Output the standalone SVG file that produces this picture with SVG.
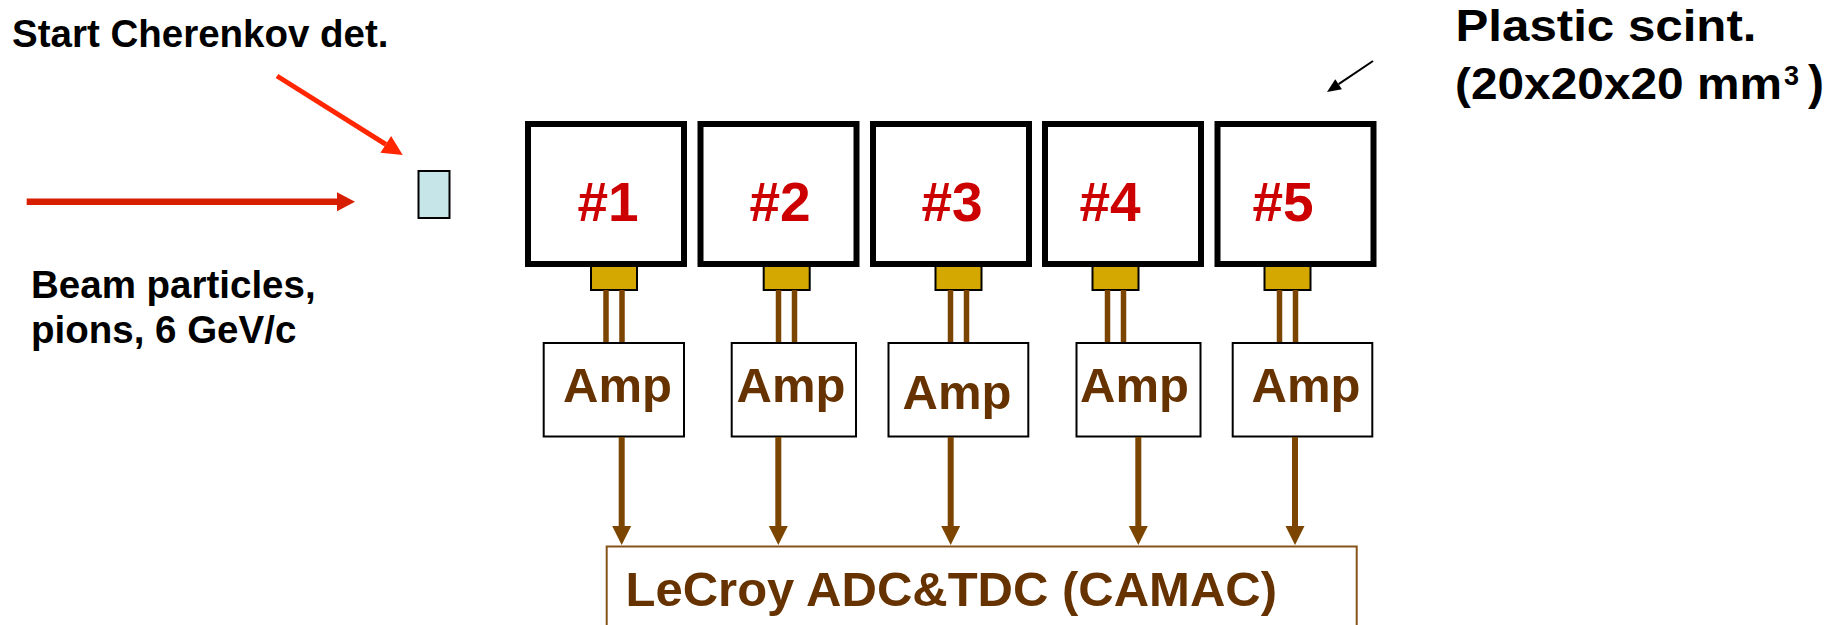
<svg xmlns="http://www.w3.org/2000/svg" width="1847" height="625" viewBox="0 0 1847 625">
<style>
  text { font-family: "Liberation Sans", Arial, Helvetica, sans-serif; font-weight: bold; }
  .lbl { fill: #000000; font-size: 38.5px; }
  .big { fill: #000000; font-size: 45px; }
  .sup { fill: #000000; font-size: 27px; }
  .paren { fill: #000000; font-size: 48px; }
  .num { fill: #cc0000; font-size: 55px; text-anchor: middle; }
  .amptxt { fill: #663300; font-size: 49px; }
  .scint { fill: #ffffff; stroke: #000000; stroke-width: 6; }
  .pmt { fill: #d4a800; stroke: #000000; stroke-width: 2; }
  .wire { stroke: #7b4500; stroke-width: 5.5; fill: none; }
  .amp { fill: #ffffff; stroke: #000000; stroke-width: 2; }
  .out { stroke: #7b4500; stroke-width: 6; fill: none; marker-end: url(#brownHead); }
</style>
<defs>
  <marker id="brownHead" markerUnits="userSpaceOnUse" markerWidth="20" markerHeight="20" viewBox="0 -10 20 20" refX="0" refY="0" orient="auto" overflow="visible">
    <path d="M0,-9.5 L19,0 L0,9.5 Z" fill="#7b4500"/>
  </marker>
  <marker id="redHead1" markerUnits="userSpaceOnUse" markerWidth="20" markerHeight="20" viewBox="0 -10 20 20" refX="0" refY="0" orient="auto" overflow="visible">
    <path d="M0,-10 L20,0 L0,10 Z" fill="#ff2600"/>
  </marker>
  <marker id="redHead2" markerUnits="userSpaceOnUse" markerWidth="20" markerHeight="20" viewBox="0 -10 20 20" refX="0" refY="0" orient="auto" overflow="visible">
    <path d="M0,-9.5 L18,0 L0,9.5 Z" fill="#d81e00"/>
  </marker>
  <marker id="blackHead" markerUnits="userSpaceOnUse" markerWidth="16" markerHeight="16" viewBox="0 -8 16 16" refX="0" refY="0" orient="auto" overflow="visible">
    <path d="M0,-6 L14,0 L0,6 Z" fill="#000000"/>
  </marker>
</defs>

<rect width="1847" height="625" fill="#ffffff"/>

<!-- labels -->
<g id="label-start">
  <text class="lbl" x="12" y="47">Start Cherenkov det.</text>
</g>
<g id="label-beam">
  <text class="lbl" x="31" y="298">Beam particles,</text>
  <text class="lbl" x="31" y="343">pions, 6 GeV/c</text>
</g>
<g id="label-plastic">
  <text class="big" x="1455.5" y="41" textLength="301" lengthAdjust="spacingAndGlyphs">Plastic scint.</text>
  <text class="big" x="1455" y="99" textLength="327" lengthAdjust="spacingAndGlyphs">(20x20x20 mm</text>
  <text class="sup" x="1784" y="85">3</text>
  <text class="paren" x="1808" y="99">)</text>
</g>

<!-- Cherenkov detector -->
<g id="cherenkov">
  <rect x="418.5" y="171" width="31" height="47" fill="#c5e5e8" stroke="#000000" stroke-width="2"/>
</g>

<!-- scintillators -->
<g id="scint1">
  <rect class="scint" x="528" y="124" width="156" height="140"/>
  <text class="num" x="608" y="221">#1</text>
  <rect class="pmt" x="591" y="266" width="46" height="24"/>
</g>
<g id="scint2">
  <rect class="scint" x="700.5" y="124" width="156" height="140"/>
  <text class="num" x="780" y="221">#2</text>
  <rect class="pmt" x="763.7" y="266" width="46" height="24"/>
</g>
<g id="scint3">
  <rect class="scint" x="873" y="124" width="156" height="140"/>
  <text class="num" x="952" y="221">#3</text>
  <rect class="pmt" x="935.5" y="266" width="46" height="24"/>
</g>
<g id="scint4">
  <rect class="scint" x="1045" y="124" width="156" height="140"/>
  <text class="num" x="1110" y="221">#4</text>
  <rect class="pmt" x="1092.5" y="266" width="46" height="24"/>
</g>
<g id="scint5">
  <rect class="scint" x="1217.5" y="124" width="156" height="140"/>
  <text class="num" x="1283" y="221">#5</text>
  <rect class="pmt" x="1264.5" y="266" width="46" height="24"/>
</g>

<!-- amplifiers -->
<g id="amp1">
  <rect class="amp" x="543.7" y="343" width="140.3" height="93.5"/>
  <text class="amptxt" x="563" y="402">Amp</text>
</g>
<g id="amp2">
  <rect class="amp" x="731.7" y="343" width="124.3" height="93.5"/>
  <text class="amptxt" x="736.5" y="402">Amp</text>
</g>
<g id="amp3">
  <rect class="amp" x="888.5" y="343" width="139.8" height="93.5"/>
  <text class="amptxt" x="902.5" y="409">Amp</text>
</g>
<g id="amp4">
  <rect class="amp" x="1076.5" y="343" width="124" height="93.5"/>
  <text class="amptxt" x="1080" y="402">Amp</text>
</g>
<g id="amp5">
  <rect class="amp" x="1232.7" y="343" width="139.6" height="93.5"/>
  <text class="amptxt" x="1251.5" y="402">Amp</text>
</g>

<!-- LeCroy -->
<g id="lecroy">
  <rect x="606.7" y="546.5" width="750" height="100" fill="#ffffff" stroke="#85521a" stroke-width="2"/>
  <text class="amptxt" x="625.5" y="606">LeCroy ADC&amp;TDC (CAMAC)</text>
</g>

<!-- connectors -->
<g id="connectors">
  <line x1="277" y1="76" x2="385.8" y2="144.4" stroke="#ff2600" stroke-width="5" marker-end="url(#redHead1)"/>
  <line x1="26.7" y1="201.7" x2="337" y2="201.7" stroke="#d81e00" stroke-width="6.5" marker-end="url(#redHead2)"/>
  <line x1="1373" y1="61" x2="1338.6" y2="84.2" stroke="#000000" stroke-width="2" marker-end="url(#blackHead)"/>

  <line class="wire" x1="606" y1="290" x2="606" y2="342"/>
  <line class="wire" x1="622" y1="290" x2="622" y2="342"/>
  <line class="wire" x1="778.5" y1="290" x2="778.5" y2="342"/>
  <line class="wire" x1="794.5" y1="290" x2="794.5" y2="342"/>
  <line class="wire" x1="950.5" y1="290" x2="950.5" y2="342"/>
  <line class="wire" x1="966.5" y1="290" x2="966.5" y2="342"/>
  <line class="wire" x1="1107.5" y1="290" x2="1107.5" y2="342"/>
  <line class="wire" x1="1123.5" y1="290" x2="1123.5" y2="342"/>
  <line class="wire" x1="1279.5" y1="290" x2="1279.5" y2="342"/>
  <line class="wire" x1="1295.5" y1="290" x2="1295.5" y2="342"/>

  <line class="out" x1="621.7" y1="437" x2="621.7" y2="526"/>
  <line class="out" x1="778.3" y1="437" x2="778.3" y2="526"/>
  <line class="out" x1="950.7" y1="437" x2="950.7" y2="526"/>
  <line class="out" x1="1138.3" y1="437" x2="1138.3" y2="526"/>
  <line class="out" x1="1295" y1="437" x2="1295" y2="526"/>
</g>
</svg>
